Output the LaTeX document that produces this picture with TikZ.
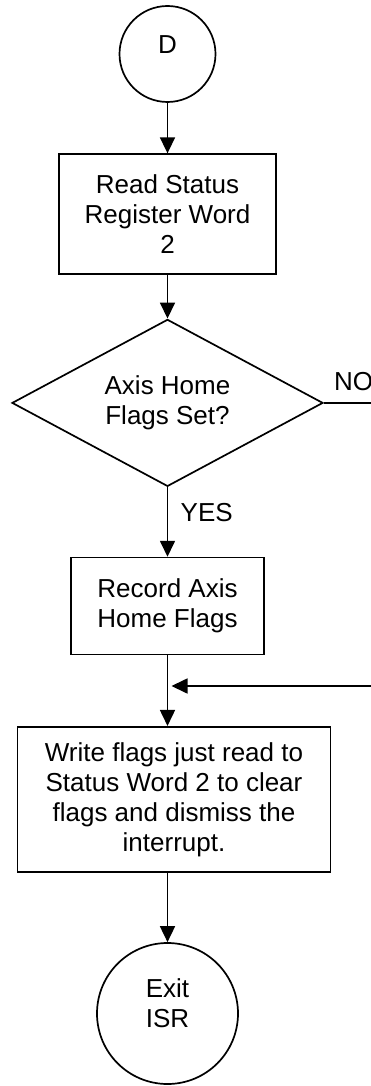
\documentclass[tikz,border=0pt]{standalone}
\usepackage{fontspec}
\setmainfont{Liberation Sans}
\usetikzlibrary{positioning,shapes.geometric,arrows.meta}

\begin{document}
\begin{tikzpicture}[x=1pt,y=-1pt]
 \tikzstyle{every node} = [font=\fontsize{26}{30}\selectfont];
 \tikzstyle{arrow}    = [-{Triangle[width=15pt,length=16pt]},line width=1.7pt];
 \tikzstyle{line}     = [line width=1.7pt];
 \tikzstyle{circles}  = [circle,draw,line width=1.7pt,align=center,inner sep=0pt];
 \tikzstyle{process}  = [rectangle,draw,line width=1.7pt,align=center,inner sep=0pt];
 \tikzstyle{decision} = [diamond,draw,line width=1.7pt,align=center,inner sep=0pt,aspect=2];

 \useasboundingbox (0,0) rectangle (371,1086);

 %% entry point
 \node[circles, name=d, minimum size=96pt, text depth=18.6pt] at (167.5,54) {D};

 %% read status register
 \node[process, name=readsw, minimum width=217pt, minimum height=120pt,
       below=50.5pt of d] {Read Status\\Register Word\\2};

 %% home flags test
 \node[decision, name=axis, minimum width=311pt, minimum height=167pt,
       below=43.5pt of readsw] {Axis Home\\Flags Set?};

 %% record flags
 \node[process, name=record, minimum width=193pt, minimum height=97pt,
       below=69.5pt of axis] {Record Axis\\Home Flags};

 %% clear flags
 \node[process, name=clear, minimum width=313pt, minimum height=145pt,
       below=70.5pt of record, xshift=6.5pt] {Write flags just read to\\Status Word 2 to clear\\flags and dismiss the\\interrupt.};

 %% exit
 \node[circles, name=exit, minimum size=141pt, text depth=21pt,
       below=69.5pt of clear.south -| record.south] {Exit\\ISR};

 %% off-page ends
 \coordinate (noend) at (axis.east -| 371,0);
 \coordinate (ret) at (371,686);

 \draw[arrow] (d) -- (readsw);
 \draw[arrow] (readsw) -- (axis);
 \draw[line] (axis.east) -- node[pos=0, anchor=base west, xshift=6pt, yshift=12pt] {NO} (noend);
 \draw[arrow] (axis) -- node[pos=0.37, right=9pt] {YES} (record);
 \draw[arrow] (record.south) -- (record.south |- clear.north);
 \draw[arrow, shorten >=4pt] (ret) -- (record.south |- ret);
 \draw[arrow] (exit.north |- clear.south) -- (exit);

\end{tikzpicture}
\end{document}
